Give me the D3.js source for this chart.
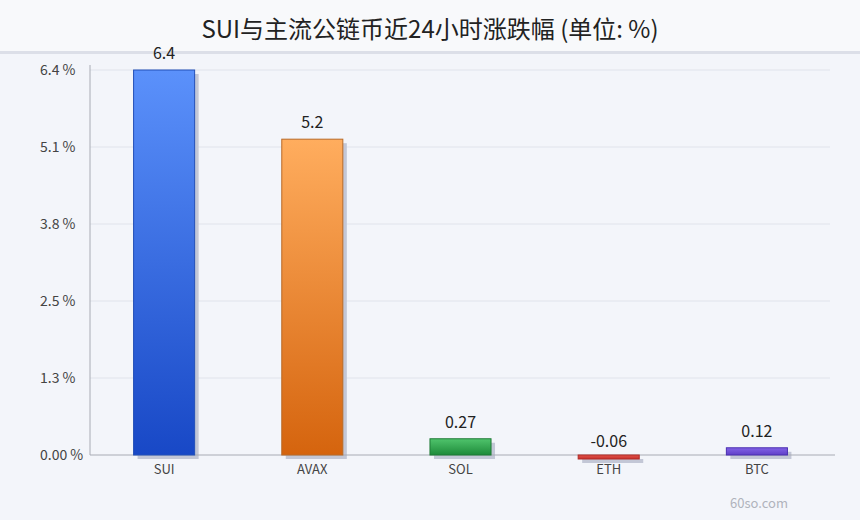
<!DOCTYPE html>
<html><head><meta charset="utf-8">
<script src="https://cdn.jsdelivr.net/npm/d3@7"></script>
<style>
html,body{margin:0;padding:0;background:#f3f5fa;}
svg{display:block;font-family:"Noto Sans CJK SC","Noto Sans",sans-serif;}
</style></head><body>
<svg id="c" width="860" height="520"></svg>
<script>
const categories = ["SUI","AVAX","SOL","ETH","BTC"];
const values = [6.4, 5.25, 0.27, -0.06, 0.12];
const valueLabels = ["6.4","5.2","0.27","-0.06","0.12"];
const tickValues = [0, 1.28, 2.56, 3.84, 5.12, 6.4];
const tickLabels = ["0.00 %","1.3 %","2.5 %","3.8 %","5.1 %","6.4 %"];
const topColors = ["#5b91fb","#ffad5e","#4fc46c","#e0524a","#8262e6"];
const bottomColors = ["#1848c6","#d5640e","#1e8a3a","#c8302c","#6040c8"];
const strokeColors = ["#2350b8","#b86a28","#1f7a36","#b02a26","#4a2fb0"];

const svg = d3.select("#c");
const W = 860, H = 520;
const m = {left: 90, right: 29, top: 70, bottom: 65};
const FONT = '"Noto Sans CJK SC","Noto Sans",sans-serif';

svg.append("rect").attr("width",W).attr("height",H).attr("fill","#f3f5fa");
svg.append("rect").attr("width",W).attr("height",52).attr("fill","#f8f9fb");
svg.append("rect").attr("y",51).attr("width",W).attr("height",3).attr("fill","#dcdfe8");

svg.append("text").attr("x",W/2).attr("y",38).attr("text-anchor","middle")
  .attr("font-size",24).attr("fill","#222").text("SUI与主流公链币近24小时涨跌幅 (单位: %)");

const x = d3.scaleBand().domain(categories).range([m.left, W - m.right]).paddingInner(0.588).paddingOuter(0.294);
const y = d3.scaleLinear().domain([0, 6.4]).range([H - m.bottom, m.top]);

// grid
svg.append("g").selectAll("line").data(tickValues.slice(1)).join("line")
  .attr("x1", m.left).attr("x2", W - 30)
  .attr("y1", d=>y(d)).attr("y2", d=>y(d))
  .attr("stroke","#e0e3eb").attr("stroke-width",1);

// y axis
const yAxis = d3.axisLeft(y).tickValues(tickValues).tickFormat((d,i)=>tickLabels[i]).tickSize(0);
const gy = svg.append("g").attr("transform",`translate(${m.left},0)`).call(yAxis);
gy.select(".domain").attr("stroke","#a8abb4").attr("d",`M0,${y(6.4)-5}V${y(0)}`);
gy.selectAll("text").attr("font-size",14).attr("fill","#444").attr("font-family",FONT)
  .attr("text-anchor","start").attr("x", 40 - m.left);

// gradients
const defs = svg.append("defs");
categories.forEach((c,i)=>{
  const g = defs.append("linearGradient").attr("id","g"+i).attr("x1",0).attr("x2",0).attr("y1",0).attr("y2",1);
  g.append("stop").attr("offset","0%").attr("stop-color",topColors[i]);
  g.append("stop").attr("offset","100%").attr("stop-color",bottomColors[i]);
});

const data = categories.map((c,i)=>({c, v: values[i], l: valueLabels[i], i}));

// shadows
svg.append("g").selectAll("rect").data(data).join("rect")
  .attr("x", d=>x(d.c)+4)
  .attr("y", d=>Math.min(y(d.v), y(0))+4)
  .attr("width", x.bandwidth())
  .attr("height", d=>Math.max(Math.abs(y(d.v)-y(0)), 4))
  .attr("fill","#c3c7d6");

// x axis
const xAxis = d3.axisBottom(x).tickSize(0).tickPadding(10);
const gx = svg.append("g").attr("transform",`translate(0,${y(0)})`).call(xAxis);
gx.select(".domain").attr("stroke","#a8abb4").attr("d",`M${m.left},0H${W-25}`);
gx.selectAll("text").attr("font-size",13).attr("fill","#444").attr("font-family",FONT);

// bars
svg.append("g").selectAll("rect").data(data).join("rect")
  .attr("x", d=>x(d.c))
  .attr("y", d=>Math.min(y(d.v), y(0)))
  .attr("width", x.bandwidth())
  .attr("height", d=>Math.max(Math.abs(y(d.v)-y(0)), 4))
  .attr("fill", d=>`url(#g${d.i})`)
  .attr("stroke", d=>strokeColors[d.i]).attr("stroke-width",1);

// value labels
svg.append("g").selectAll("text").data(data).join("text")
  .attr("x", d=>x(d.c)+x.bandwidth()/2)
  .attr("y", d=> d.v >= 0 ? y(d.v) - 11 : y(0) - 8)
  .attr("text-anchor","middle").attr("font-size",16).attr("fill","#222")
  .text(d=>d.l);

svg.append("text").attr("x",759).attr("y",508).attr("text-anchor","middle")
  .attr("font-size",13).attr("fill","#b0b3bc").text("60so.com");
</script>
</body></html>
